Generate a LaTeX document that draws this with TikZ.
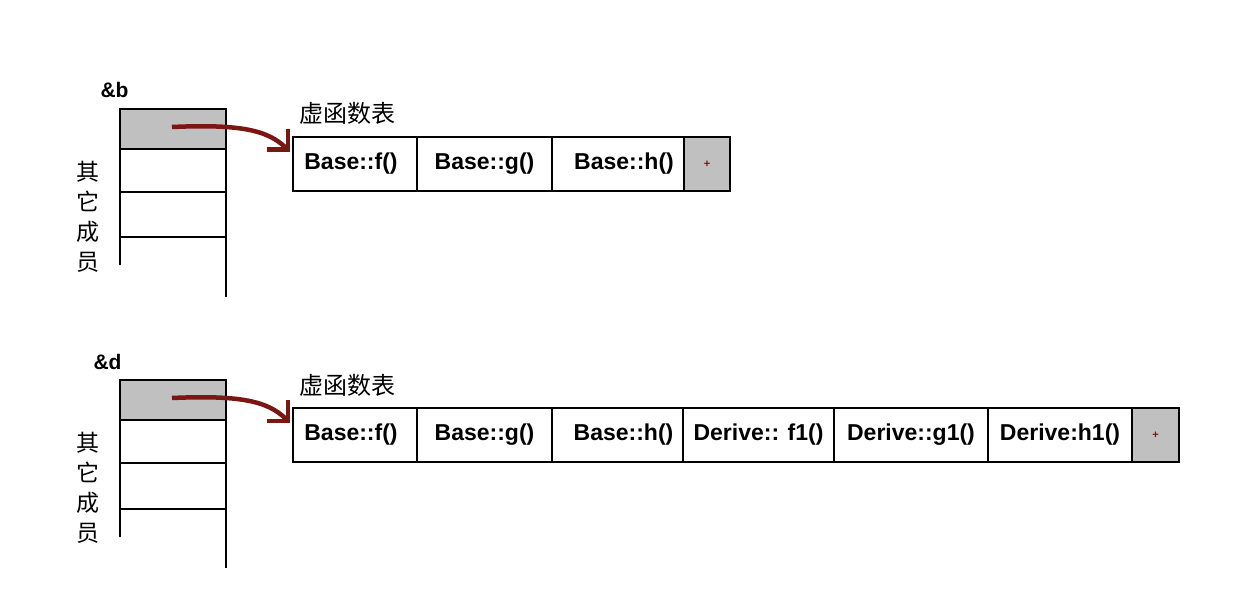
\documentclass[tikz,border=0pt]{standalone}
\usepackage{fontspec}
\setmainfont{Liberation Sans}
\newfontfamily\cjk{Noto Sans CJK SC}
\usetikzlibrary{arrows.meta}
\definecolor{ptrred}{HTML}{7A1712}
\definecolor{cellgray}{HTML}{C0C0C0}
\begin{document}
\begin{tikzpicture}[x=1pt,y=-1pt,
  cell/.style={draw, line width=1.6pt, minimum height=54pt, inner sep=0pt, outer sep=0pt, anchor=north west,
    font=\fontsize{23}{23}\selectfont\bfseries},
  endcell/.style={cell, fill=cellgray},
  slot/.style={draw, line width=1.6pt, fill=cellgray, minimum width=106pt, minimum height=40pt, inner sep=0pt, outer sep=0pt, anchor=north west},
  stackline/.style={line width=1.6pt},
  ptr/.style={draw=ptrred, line width=4.5pt, -{Straight Barb[angle=90:21pt, line width=4.5pt]}},
  objlabel/.style={font=\fontsize{21}{21}\selectfont\bfseries, anchor=base west},
  tablabel/.style={font=\cjk\fontsize{24}{24}\selectfont, anchor=base west},
  vlabel/.style={font=\cjk\fontsize{23}{30}\selectfont, align=center, inner sep=0pt},
  endmark/.style={font=\fontsize{11}{11}\selectfont\bfseries, text=ptrred, inner sep=0pt}
]
\useasboundingbox[fill=white] (0,0) rectangle (1244,612);

% ===== top: &b =====
\node[objlabel] (lb) at (97,98) {\&b};
\node[slot] (bslot) at (120,109) {};
\coordinate (bl2) at (120,192); \coordinate (br2) at (227,192);
\coordinate (bl3) at (120,237); \coordinate (br3) at (227,237);
\coordinate (blend) at (120,265); \coordinate (brend) at (226,297);
\draw[stackline] (bslot.north west) -- (blend);
\draw[stackline] (bslot.north east) -- (brend);
\draw[stackline] (bl2) -- (br2);
\draw[stackline] (bl3) -- (br3);
\node[vlabel] (bother) at (88,217) {其\\它\\成\\员};

\node[tablabel] (bvt) at (296,123) {虚函数表};
\node[cell, minimum width=124pt] (bf) at (293,137) {\hspace{-8pt}Base::f()};
\node[cell, minimum width=135pt] (bg) at (bf.north east) {Base::g()};
\node[cell, minimum width=132pt] (bh) at (bg.north east) {\hspace{12pt}Base::h()};
\node[endcell, minimum width=46pt] (bend) at (bh.north east) {};
\node[endmark] (bendm) at (bend.center) {+};

\coordinate (bsrc) at (172,127);
\coordinate (btgt) at (290,152);
\draw[ptr] (bsrc) .. controls (240,124) and (268,130) .. (btgt);

% ===== bottom: &d =====
\node[objlabel] (ld) at (90,369) {\&d};
\node[slot] (dslot) at (120,380) {};
\coordinate (dl2) at (120,463); \coordinate (dr2) at (227,463);
\coordinate (dl3) at (120,509); \coordinate (dr3) at (227,509);
\coordinate (dlend) at (120,537); \coordinate (drend) at (226,568);
\draw[stackline] (dslot.north west) -- (dlend);
\draw[stackline] (dslot.north east) -- (drend);
\draw[stackline] (dl2) -- (dr2);
\draw[stackline] (dl3) -- (dr3);
\node[vlabel] (dother) at (88,488) {其\\它\\成\\员};

\node[tablabel] (dvt) at (296,394) {虚函数表};
\node[cell, minimum width=124pt] (df) at (293,408) {\hspace{-8pt}Base::f()};
\node[cell, minimum width=135pt] (dg) at (df.north east) {Base::g()};
\node[cell, minimum width=131pt] (dh) at (dg.north east) {\hspace{12pt}Base::h()};
\node[cell, minimum width=151pt] (df1) at (dh.north east) {Derive:: f1()};
\node[cell, minimum width=154pt] (dg1) at (df1.north east) {Derive::g1()};
\node[cell, minimum width=144pt] (dh1) at (dg1.north east) {Derive:h1()};
\node[endcell, minimum width=47pt] (dend) at (dh1.north east) {};
\node[endmark] (dendm) at (dend.center) {+};

\coordinate (dsrc) at (172,398);
\coordinate (dtgt) at (290,423);
\draw[ptr] (dsrc) .. controls (240,395) and (268,401) .. (dtgt);
\end{tikzpicture}
\end{document}
